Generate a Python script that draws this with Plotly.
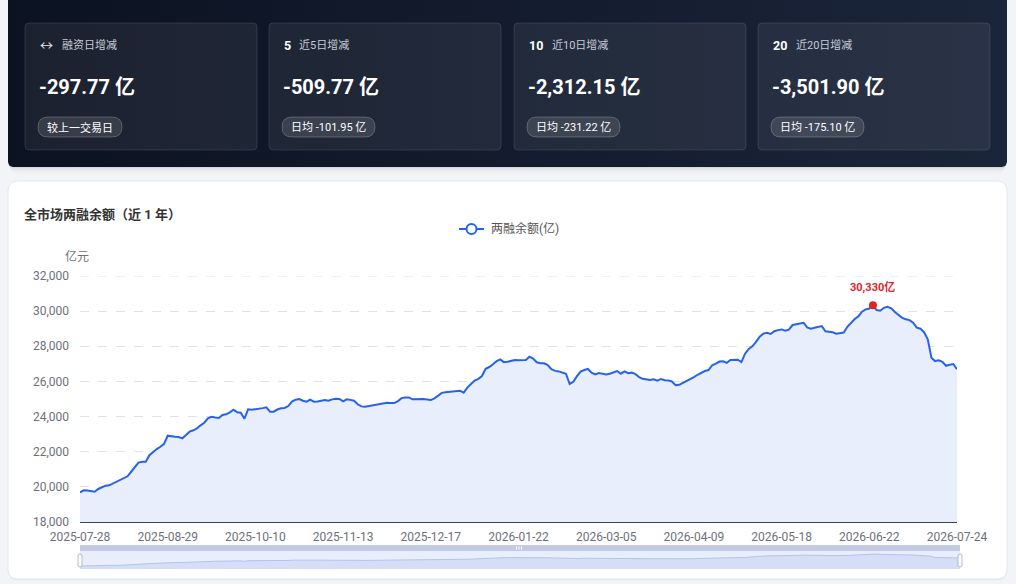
import numpy as np
import pandas as pd
import plotly.graph_objects as go

# ---------------- data ----------------
start_date = "2025-07-28"
end_date = "2026-07-24"
market_holidays = [
    "2025-10-01", "2025-10-02", "2025-10-03", "2025-10-06", "2025-10-07", "2025-10-08",
    "2026-01-01", "2026-01-02",
    "2026-02-16", "2026-02-17", "2026-02-18", "2026-02-19", "2026-02-20", "2026-02-23",
    "2026-04-06",
    "2026-05-01", "2026-05-04", "2026-05-05",
    "2026-06-19",
]
tick_dates = ["2025-07-28", "2025-08-29", "2025-10-10", "2025-11-13", "2025-12-17",
              "2026-01-22", "2026-03-05", "2026-04-09", "2026-05-18", "2026-06-22",
              "2026-07-24"]

balance = [
    19680, 19800, 19790, 19760, 19720, 19880, 19980, 20070, 20090, 20200,
    20290, 20400, 20500, 20600, 20860, 21150, 21380, 21430, 21430, 21800,
    22000, 22150, 22280, 22450, 22910, 22870, 22850, 22840, 22760, 22950,
    23140, 23220, 23320, 23500, 23650, 23900, 23990, 23950, 23920, 24090,
    24130, 24240, 24390, 24250, 24220, 23880, 24410, 24390, 24410, 24430,
    24480, 24530, 24280, 24280, 24400, 24470, 24490, 24600, 24850, 24960,
    25000, 24900, 24850, 24960, 24850, 24860, 24900, 24940, 24900, 24980,
    25010, 25000, 24870, 24980, 24950, 24900, 24700, 24580, 24560, 24600,
    24640, 24680, 24720, 24780, 24790, 24770, 24770, 24880, 25050, 25080,
    25090, 24980, 25000, 25000, 25000, 24970, 24940, 25040, 25180, 25350,
    25380, 25400, 25410, 25470, 25470, 25360, 25650, 25850, 26050, 26150,
    26310, 26720, 26820, 26980, 27150, 27250, 27100, 27120, 27180, 27220,
    27200, 27210, 27220, 27410, 27300, 27090, 27030, 27030, 26930, 26700,
    26600, 26570, 26500, 26440, 25850, 25980, 26300, 26560, 26650, 26710,
    26500, 26400, 26480, 26450, 26400, 26440, 26520, 26590, 26440, 26570,
    26470, 26500, 26420, 26250, 26150, 26100, 26080, 26120, 26040, 26140,
    26070, 26050, 26000, 25790, 25810, 25920, 26030, 26100, 26250, 26380,
    26500, 26590, 26650, 26920, 27010, 27130, 27150, 27060, 27220, 27250,
    27240, 27100, 27580, 27850, 28000, 28250, 28550, 28720, 28770, 28700,
    28860, 28920, 28960, 28890, 28950, 29210, 29250, 29290, 29340, 29070,
    29000, 29050, 29110, 29150, 28850, 28820, 28800, 28720, 28730, 28780,
    29110, 29350, 29550, 29700, 29970, 30100, 30150, 30330, 30060, 30020,
    30190, 30250, 30160, 29950, 29780, 29620, 29540, 29490, 29340, 29060,
    29000, 28800, 28400, 27350, 27160, 27200, 27120, 26890, 26950, 26990,
    26690,
]

card_badges = ["↔", "5", "10", "20"]
card_labels = ["融资日增减", "近5日增减", "近10日增减", "近20日增减"]
card_values = ["-297.77 亿", "-509.77 亿", "-2,312.15 亿", "-3,501.90 亿"]
card_notes = ["较上一交易日", "日均 -101.95 亿", "日均 -231.22 亿", "日均 -175.10 亿"]

chart_title = "全市场两融余额（近 1 年）"
series_name = "两融余额(亿)"
y_unit = "亿元"
y_min, y_max, y_step = 18000, 32000, 2000

# ---------------- helpers ----------------
W, H = 1016, 584
FONT = "Roboto, 'Noto Sans CJK SC', sans-serif"


def px(x):
    return x / W


def py(y):
    return 1 - y / H


def rrect_path(x0, y0, x1, y1, r):
    a, b, c, d = px(x0), px(x1), py(y0), py(y1)
    rx, ry = r / W, r / H
    return (f"M {a+rx},{c} L {b-rx},{c} Q {b},{c} {b},{c-ry} "
            f"L {b},{d+ry} Q {b},{d} {b-rx},{d} L {a+rx},{d} Q {a},{d} {a},{d+ry} "
            f"L {a},{c-ry} Q {a},{c} {a+rx},{c} Z")


def rrect(x0, y0, x1, y1, r, fill, line="rgba(0,0,0,0)", lw=1, layer="below"):
    return dict(type="path", xref="paper", yref="paper", path=rrect_path(x0, y0, x1, y1, r),
                fillcolor=fill, line=dict(color=line, width=lw), layer=layer)


def text(x, y, s, size, color, anchor="left", bold=False):
    return dict(x=px(x), y=py(y), xref="paper", yref="paper",
                text=f"<b>{s}</b>" if bold else s, showarrow=False,
                xanchor=anchor, yanchor="middle",
                font=dict(size=size, color=color, family=FONT))


dates_idx = pd.bdate_range(start_date, end_date)
dates_idx = dates_idx[~dates_idx.isin(pd.to_datetime(market_holidays))]
dates = [d.strftime("%Y-%m-%d") for d in dates_idx]

shapes = []
annotations = []

# page shadows
for i, a in enumerate([0.05, 0.035, 0.02, 0.01]):
    shapes.append(rrect(8 + i, 160, 1007 - i, 168 + 2 * i, 6, f"rgba(15,23,42,{a})"))
for i, a in enumerate([0.03, 0.02]):
    shapes.append(rrect(8, 182, 1007, 579 + 1 + i, 10, f"rgba(15,23,42,{a})"))

# chart card
shapes.append(rrect(8, 181, 1007, 579, 10, "#ffffff", "#e3e8ef", 1))


# dark panel as gradient trace (pixel space)
def rounded_poly(x0, y0, x1, y1, r, n=8):
    pts = []
    corners = [(x1 - r, y0 + r, -90, 0), (x1 - r, y1 - r, 0, 90),
               (x0 + r, y1 - r, 90, 180), (x0 + r, y0 + r, 180, 270)]
    for cx, cy, t0, t1 in corners:
        for t in np.linspace(np.radians(t0), np.radians(t1), n):
            pts.append((cx + r * np.cos(t), cy + r * np.sin(t)))
    pts.append(pts[0])
    return [p[0] for p in pts], [p[1] for p in pts]


panel_x, panel_y = rounded_poly(8, -10, 1007, 167, 5)

# cards
card_x = [25, 269, 514, 758]
card_w = 232
pill_w = [84, 93, 93, 93]
for i in range(4):
    x0 = card_x[i]
    shapes.append(rrect(x0, 23, x0 + card_w, 150, 4, "rgba(255,255,255,0.065)",
                        "rgba(255,255,255,0.11)", 1, layer="above"))
    tx = x0 + 13
    shapes.append(rrect(tx, 117, tx + pill_w[i], 137, 10, "rgba(255,255,255,0.12)",
                        "rgba(255,255,255,0.22)", 1, layer="above"))
    badge = card_badges[i]
    if i == 0:
        annotations.append(text(tx, 45, badge, 13, "#e5e7eb"))
        lx = tx + 22
    else:
        annotations.append(text(tx, 45, badge, 12.5, "#ffffff", bold=True))
        lx = tx + 8 * len(badge) + 7
    annotations.append(text(lx, 45, card_labels[i], 11, "#c4cad4"))
    annotations.append(text(tx - 1, 87, card_values[i], 20, "#ffffff", bold=True))
    annotations.append(text(tx + pill_w[i] / 2, 127.5, card_notes[i], 11, "#ffffff",
                            anchor="center"))

# chart title / legend / unit
annotations.append(text(22, 215, chart_title, 13, "#333333", bold=True))
shapes.append(dict(type="line", xref="paper", yref="paper", x0=px(459), x1=px(484),
                   y0=py(229), y1=py(229), line=dict(color="#2563eb", width=2), layer="above"))
shapes.append(dict(type="circle", xref="paper", yref="paper", x0=px(466.5), x1=px(476.5),
                   y0=py(234), y1=py(224), fillcolor="#ffffff",
                   line=dict(color="#2563eb", width=2), layer="above"))
annotations.append(text(489, 229, series_name, 12, "#555555"))
annotations.append(text(77, 256, y_unit, 12, "#6e7079", anchor="center"))

# top gridline at the axis maximum (plotly omits the edge gridline)
shapes.append(dict(type="line", xref="x domain", yref="y", x0=0, x1=1, y0=y_max, y1=y_max,
                   line=dict(color="#dde3ee", width=1, dash="dash"), layer="below"))

# data zoom slider decoration
SX0, SX1 = 80, 960
shapes.append(dict(type="rect", xref="paper", yref="paper", x0=px(SX0), x1=px(SX1),
                   y0=py(569), y1=py(551), fillcolor="#e8eefb", line=dict(width=0), layer="below"))
shapes.append(dict(type="rect", xref="paper", yref="paper", x0=px(SX0), x1=px(SX1),
                   y0=py(551), y1=py(545), fillcolor="#c3cae6", line=dict(width=0), layer="above"))
for gx in (516.5, 519, 521.5):
    shapes.append(dict(type="line", xref="paper", yref="paper", x0=px(gx), x1=px(gx),
                       y0=py(546.5), y1=py(549.5), line=dict(color="#ffffff", width=1),
                       layer="above"))
for hx in (SX0, SX1):
    shapes.append(rrect(hx - 2, 554, hx + 2, 567, 2, "#ffffff", "#acb8d1", 1, layer="above"))

# peak
peak_i = int(np.argmax(balance))
peak_v = balance[peak_i]
annotations.append(dict(x=dates[peak_i], y=peak_v, xref="x", yref="y",
                        text=f"<b>{peak_v:,.0f}亿</b>", showarrow=False,
                        yanchor="bottom", yshift=9,
                        font=dict(size=11, color="#dc2626", family=FONT)))

# ---------------- figure ----------------
fig = go.Figure()
fig.add_trace(go.Scatter(x=dates, y=balance, mode="lines", name=series_name,
                         line=dict(color="#2563eb", width=2),
                         fill="tozeroy", fillcolor="#e8eefc",
                         xaxis="x", yaxis="y", hoverinfo="skip"))
fig.add_trace(go.Scatter(x=[dates[peak_i]], y=[peak_v], mode="markers",
                         marker=dict(color="#dc2626", size=8),
                         xaxis="x", yaxis="y", hoverinfo="skip"))
fig.add_trace(go.Scatter(x=dates, y=balance, mode="lines",
                         line=dict(color="#b3c4ee", width=1),
                         fill="tozeroy", fillcolor="#d5def6",
                         xaxis="x2", yaxis="y2", hoverinfo="skip"))
fig.add_trace(go.Scatter(x=panel_x, y=panel_y, mode="lines", line=dict(width=0),
                         fill="toself",
                         fillgradient=dict(type="horizontal",
                                           colorscale=[[0, "#0b1221"], [1, "#1b253a"]]),
                         xaxis="x3", yaxis="y3", hoverinfo="skip"))

PX0, PX1, PY_TOP, PY_BOT = 80, 957, 276, 522
fig.update_layout(
    width=W, height=H,
    margin=dict(l=0, r=0, t=0, b=0, autoexpand=False),
    paper_bgcolor="#f2f4f7",
    plot_bgcolor="rgba(0,0,0,0)",
    showlegend=False,
    font=dict(family=FONT),
    xaxis=dict(domain=[px(PX0), px(PX1)], anchor="y", type="category",
               range=[0, len(dates) - 1], tickvals=tick_dates, ticktext=tick_dates,
               showgrid=False, showline=True, linecolor="#3d424d", linewidth=1,
               ticks="", ticklabelstandoff=4, zeroline=False, automargin=False,
               tickfont=dict(size=12, color="#6e7079", family=FONT)),
    yaxis=dict(domain=[py(PY_BOT), py(PY_TOP)], anchor="x", range=[y_min, y_max],
               dtick=y_step, tickformat=",", showgrid=True, gridcolor="#dde3ee",
               griddash="dash", gridwidth=1, zeroline=False, showline=False,
               ticks="", ticklabelstandoff=10, automargin=False,
               tickfont=dict(size=12, color="#6e7079", family=FONT)),
    xaxis2=dict(domain=[px(SX0), px(SX1)], anchor="y2", type="category",
                range=[0, len(dates) - 1], visible=False, automargin=False),
    yaxis2=dict(domain=[py(569), py(551)], anchor="x2", range=[17017, 32992],
                visible=False, automargin=False),
    xaxis3=dict(domain=[0, 1], anchor="y3", range=[0, W], visible=False, automargin=False),
    yaxis3=dict(domain=[0, 1], anchor="x3", range=[H, 0], visible=False, automargin=False),
    shapes=shapes,
    annotations=annotations,
)

fig.write_html("out.html", config={"displayModeBar": False},
               post_script="document.body.style.margin='0';document.body.style.background='#f2f4f7';")
